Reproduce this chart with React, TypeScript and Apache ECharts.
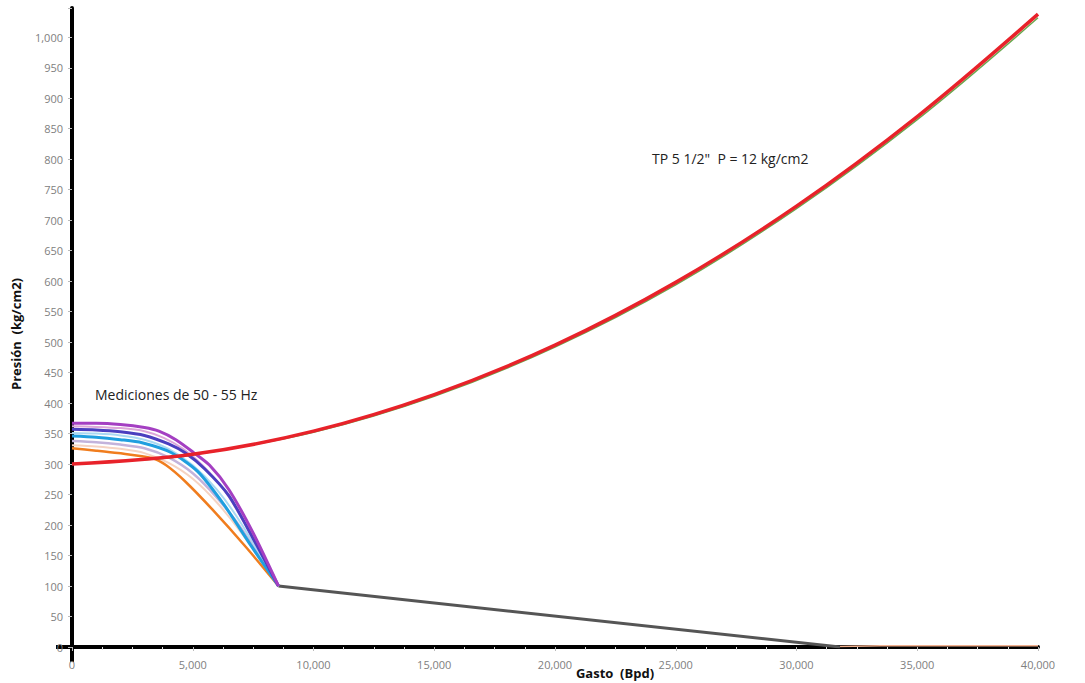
import React, { useEffect, useRef } from 'react';
import * as echarts from 'echarts';

// Curvas de medición 50 - 55 Hz  [gasto (Bpd), presión (kg/cm2)]
const purple = [[0, 367], [1000, 367], [2000, 365], [3000, 360], [3600, 354], [4300, 340], [5000, 320], [5700, 298], [6500, 258], [7500, 187], [8550, 100]];
const pinkPurple = [[0, 362], [1000, 361], [2000, 359], [3000, 354], [3800, 343], [4600, 325], [5400, 298], [6400, 252], [7400, 185], [8550, 100]];
const indigo = [[0, 357], [1000, 356], [2000, 353], [3000, 347], [4000, 333], [4700, 318], [5500, 292], [6500, 248], [7500, 178], [8550, 100]];
const lightBlue = [[0, 351], [1000, 350], [2000, 347], [3000, 340], [4000, 325], [5000, 298], [6000, 258], [7000, 203], [8550, 100]];
const cyan = [[0, 346], [1000, 344], [2000, 340], [2900, 335], [4100, 319], [5200, 288], [6300, 233], [7400, 167], [8550, 100]];
const lavender = [[0, 338], [1000, 336], [2000, 332], [3000, 326], [4000, 311], [5000, 285], [6000, 245], [7000, 195], [8550, 100]];
const peach = [[0, 331], [1000, 329], [2000, 325], [3000, 318], [4000, 302], [5000, 276], [6000, 237], [7000, 188], [8550, 100]];
const orange = [[0, 326], [1000, 322], [1900, 318], [3300, 310], [3900, 298], [4700, 271], [5800, 226], [7200, 164], [8550, 100]];

// Curva del sistema TP 5 1/2"
const tpRed = [[0, 300], [5000, 316], [10000, 354], [15000, 414], [20000, 495], [25000, 598], [30000, 723], [35000, 870], [40000, 1038]];
const tpGreen = [[3000, 307], [5000, 315], [10000, 352], [15000, 411], [20000, 492], [25000, 594], [30000, 719], [35000, 865], [40000, 1032]];

// Tramo común
const greyLine = [[8550, 100], [31800, 0]];
const tailLine = [[31800, 1], [33500, 2], [40000, 2]];

const xTicks = { min: 0, max: 40000, interval: 5000 };
const yTicks = { min: 0, max: 1048, interval: 50 };

const fmt = (v: number) => v.toLocaleString('en-US');

export default function App() {
  const ref = useRef<HTMLDivElement>(null);
  useEffect(() => {
    document.body.style.margin = '0';
    const chart = echarts.init(ref.current!, null, { renderer: 'svg' });
    const curve = (name: string, data: number[][], color: string, width: number, z = 2, smooth = 0.25) => ({
      name,
      type: 'line',
      data,
      smooth,
      showSymbol: false,
      symbol: 'none',
      z,
      lineStyle: { color, width },
    });
    chart.setOption({
      animation: false,
      grid: { left: 72, right: 47, top: 8, bottom: 36 },
      xAxis: {
        type: 'value',
        ...xTicks,
        axisLine: { lineStyle: { color: '#000', width: 4 } },
        axisTick: { show: true, length: 4, lineStyle: { color: '#bbb' } },
        minorTick: { show: true, splitNumber: 4, length: 3, lineStyle: { color: '#ddd' } },
        splitLine: { show: false },
        axisLabel: { color: '#808080', fontSize: 11, fontFamily: 'Open Sans', margin: 12, formatter: (v: number) => fmt(v) },
      },
      yAxis: {
        type: 'value',
        ...yTicks,
        axisLine: { show: true, lineStyle: { color: '#000', width: 4 } },
        axisTick: { show: true, length: 4, lineStyle: { color: '#bbb' } },
        splitLine: { show: false },
        axisLabel: {
          color: '#808080', fontSize: 11, fontFamily: 'Open Sans', margin: 9,
          formatter: (v: number) => (v % 50 === 0 ? fmt(v) : ''),
        },
      },
      graphic: [
        { type: 'line', shape: { x1: 56, y1: 647, x2: 72, y2: 647 }, style: { stroke: '#000', lineWidth: 4 } },
        { type: 'line', shape: { x1: 72, y1: 647, x2: 72, y2: 662 }, style: { stroke: '#000', lineWidth: 4 } },
        {
          type: 'text', x: 95, y: 394,
          style: { text: 'Mediciones de 50 - 55 Hz', fontSize: 14, fontFamily: 'Open Sans', fill: '#222', verticalAlign: 'middle' },
        },
        {
          type: 'text', x: 652, y: 158,
          style: { text: 'TP 5 1/2"  P = 12 kg/cm2', fontSize: 14, fontFamily: 'Open Sans', fill: '#222', verticalAlign: 'middle' },
        },
        {
          type: 'text', x: 615, y: 673,
          style: { text: 'Gasto  (Bpd)', fontSize: 13, fontWeight: 'bold', fontFamily: 'Open Sans', fill: '#111', align: 'center', verticalAlign: 'middle' },
        },
        {
          type: 'text', x: 16, y: 334, rotation: Math.PI / 2,
          style: { text: 'Presión  (kg/cm2)', fontSize: 13, fontWeight: 'bold', fontFamily: 'Open Sans', fill: '#111', align: 'center', verticalAlign: 'middle' },
        },
      ],
      series: [
        curve('tail', tailLine, '#f2b08e', 1.5, 1, 0),
        curve('grey', greyLine, '#555555', 3, 2, 0),
        curve('peach', peach, '#f5d3c2', 2, 3),
        curve('lavender', lavender, '#c3b3db', 2.5, 3),
        curve('lightBlue', lightBlue, '#a9d9f2', 2, 3),
        curve('pinkPurple', pinkPurple, '#dca6d9', 2, 3),
        curve('orange', orange, '#f07d1e', 2.5, 4),
        curve('cyan', cyan, '#1f9fdf', 3, 4),
        curve('indigo', indigo, '#4a3fbf', 3, 4),
        curve('purple', purple, '#a43fc2', 3, 4),
        curve('green', tpGreen, '#6aa84f', 1.5, 5, 0.35),
        curve('red', tpRed, '#e8222a', 3.5, 6, 0.35),
      ],
    });
    return () => chart.dispose();
  }, []);
  return <div ref={ref} style={{ width: 1085, height: 683 }} />;
}
